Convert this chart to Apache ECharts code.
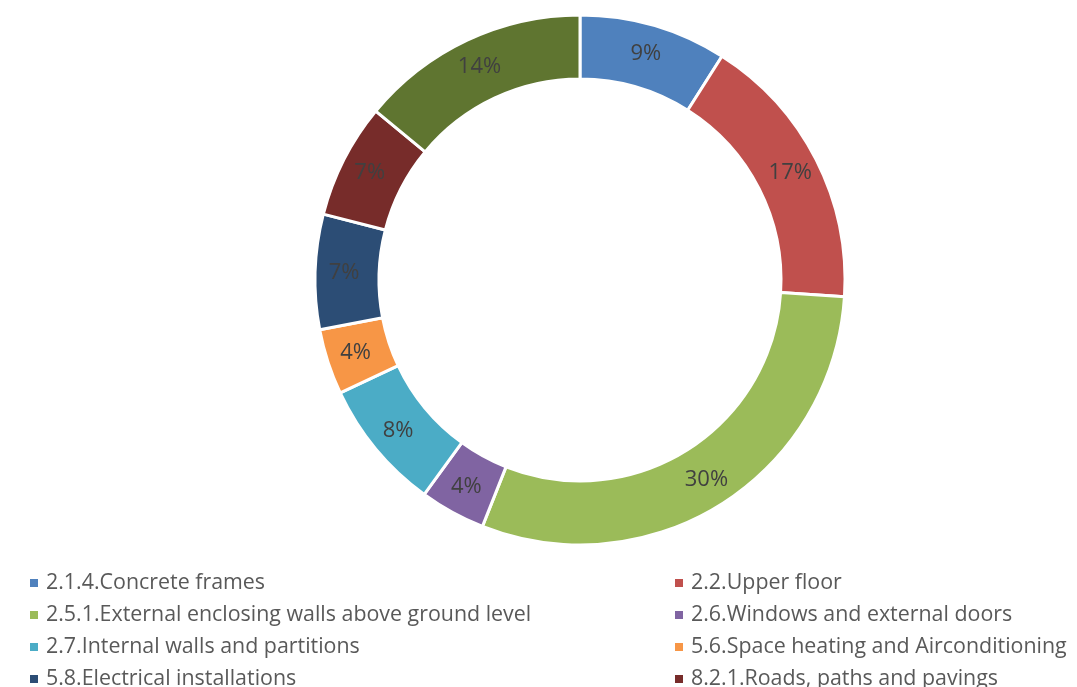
<!DOCTYPE html>
<html>
<head>
<meta charset="utf-8">
<script src="https://cdn.jsdelivr.net/npm/echarts@6/dist/echarts.min.js"></script>
<style>
  html, body { margin: 0; padding: 0; background: #fff; }
  #chart { width: 1077px; height: 687px; }
</style>
</head>
<body>
<div id="chart"></div>
<script>
// Cost breakdown by building element (share of total, %)
const categories = [
  '2.1.4.Concrete frames',
  '2.2.Upper floor',
  '2.5.1.External enclosing walls above ground level',
  '2.6.Windows and external doors',
  '2.7.Internal walls and partitions',
  '5.6.Space heating and Airconditioning',
  '5.8.Electrical installations',
  '8.2.1.Roads, paths and pavings',
  '8.2.2.Other external works'
];
const shares = [9, 17, 30, 4, 8, 4, 7, 7, 14];
const colors = ['#4F81BD', '#C0504D', '#9BBB59', '#8064A2', '#4BACC6',
                '#F79646', '#2C4D75', '#772C2A', '#5F7530'];

// Two legend columns, alternating entries; the last entry falls below the visible area
const leftLegend = categories.filter((_, i) => i < 8 && i % 2 === 0);
const rightLegend = categories.filter((_, i) => i < 8 && i % 2 === 1);

const fontFamily = '"Open Sans", Lato, sans-serif';

const legendBase = {
  orient: 'vertical',
  top: 567,
  height: 200,
  itemWidth: 10,
  itemHeight: 10,
  itemGap: 10,
  icon: 'rect',
  selectedMode: false,
  textStyle: {
    color: '#595959', fontSize: 21.4, fontFamily: fontFamily, lineHeight: 22,
    padding: [0, 0, 0, 2]
  }
};

const chart = echarts.init(document.getElementById('chart'), null, { renderer: 'canvas' });
chart.setOption({
  backgroundColor: '#ffffff',
  color: colors,
  animation: false,
  legend: [
    Object.assign({}, legendBase, { left: 23, data: leftLegend }),
    Object.assign({}, legendBase, { left: 668, data: rightLegend })
  ],
  series: [{
    type: 'pie',
    center: [580, 280],
    radius: [201, 265],
    startAngle: 90,
    clockwise: true,
    avoidLabelOverlap: false,
    itemStyle: { borderColor: '#ffffff', borderWidth: 3 },
    label: {
      position: 'inside',
      formatter: p => p.value + '%',
      color: '#404040',
      fontSize: 22,
      fontFamily: fontFamily
    },
    labelLine: { show: false },
    emphasis: { disabled: true },
    data: categories.map((name, i) => ({ name: name, value: shares[i] }))
  }]
});
</script>
</body>
</html>
